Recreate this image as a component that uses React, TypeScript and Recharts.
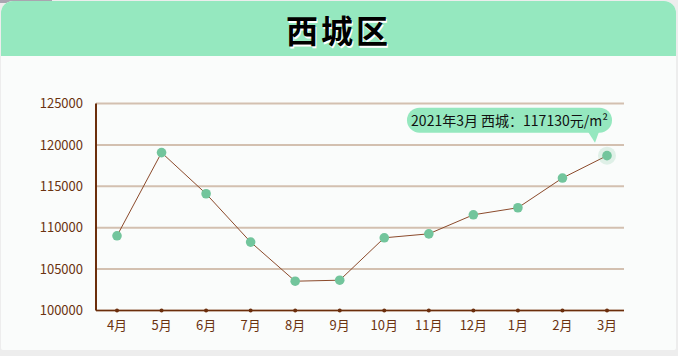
import React from "react";
import { LineChart, Line, XAxis, YAxis, CartesianGrid } from "recharts";

const months = ["4月", "5月", "6月", "7月", "8月", "9月", "10月", "11月", "12月", "1月", "2月", "3月"];
const prices = [109020, 119070, 114100, 108260, 103540, 103660, 108780, 109260, 111560, 112410, 116000, 118700];
const yTicks = [100000, 105000, 110000, 115000, 120000, 125000];
const title = "西城区";
const tooltipText = "2021年3月 西城：117130元/m²";

const data = months.map((m, i) => ({ month: m, price: prices[i] }));

const FONT = '"Noto Sans CJK SC", "Noto Sans", sans-serif';
const BROWN = "#6B2E0C";

const XTick = (props: any) => {
  const { x, y, payload } = props;
  const axisY = y - 10;
  return (
    <g>
      <circle cx={x} cy={axisY} r={2} fill={BROWN} />
      <text x={x} y={y} dy="0.71em" textAnchor="middle" fill="#6B3310" fontSize={13} fontFamily={FONT}>
        {payload.value}
      </text>
    </g>
  );
};

const Dot = (props: any) => {
  const { cx, cy, index } = props;
  if (cx == null || cy == null) return null;
  const last = index === prices.length - 1;
  if (!last) {
    return <circle key={`d${index}`} cx={cx} cy={cy} r={4.8} fill="#72C59C" />;
  }
  const bx1 = cx - 200;
  const bx2 = cx + 5;
  const by1 = cy - 48;
  const by2 = cy - 23;
  return (
    <g key={`d${index}`}>
      <circle cx={cx} cy={cy} r={9} fill="#72C59C" fillOpacity={0.2} />
      <circle cx={cx} cy={cy} r={4.8} fill="#72C59C" />
      <rect x={bx1} y={by1} width={bx2 - bx1} height={by2 - by1} rx={12.5} ry={12.5} fill="#95E8BF" />
      <path d={`M ${cx - 19} ${by2 - 1} L ${cx - 12} ${cy - 13} L ${cx - 8} ${by2 - 1} Z`} fill="#95E8BF" />
      <text x={(bx1 + bx2) / 2} y={by1 + 18} textAnchor="middle" fontSize={14} fill="#111" fontFamily={FONT}>
        {tooltipText}
      </text>
    </g>
  );
};

export default function App() {
  return (
    <div style={{ position: "fixed", left: 0, top: 0, width: 678, height: 356, background: "#EDEDED", overflow: "hidden" }}>
      <div style={{ position: "absolute", left: 0, top: 0, width: 52, height: 3, background: "#A9A5B0" }} />
      <div style={{ position: "absolute", left: 1, top: 1, width: 675, height: 349, background: "#FAFCFB", borderRadius: "12px 12px 2px 2px", overflow: "hidden" }}>
        <div style={{ position: "absolute", left: 0, top: 0, width: 675, height: 55, background: "#95E8BF" }} />
        <div style={{ position: "absolute", left: 0, top: 0, width: 675, height: 55, display: "flex", alignItems: "center", justifyContent: "center", fontFamily: FONT, fontWeight: 700, fontSize: 32, letterSpacing: 3, color: "#000", textShadow: "1px 2px 0 #fff", paddingLeft: 0 }}>
          {title}
        </div>
      </div>
      <div style={{ position: "absolute", left: 0, top: 0 }}>
        <LineChart width={678} height={356} data={data} margin={{ top: 103.5, right: 54, bottom: 15.5, left: 0 }}>
          <CartesianGrid horizontal vertical={false} stroke="#D3C0B0" strokeWidth={2} />
          <XAxis
            dataKey="month"
            padding={{ left: 21, right: 17 }}
            height={30}
            axisLine={{ stroke: BROWN, strokeWidth: 1.5 }}
            tickLine={false}
            tickSize={6}
            tickMargin={4}
            tick={<XTick />}
            interval={0}
          />
          <YAxis
            domain={[100000, 125000]}
            ticks={yTicks}
            width={96}
            axisLine={{ stroke: BROWN, strokeWidth: 2 }}
            tickLine={false}
            tickSize={6}
            tickMargin={7}
            tick={{ fill: "#6B3310", fontSize: 13, fontFamily: FONT }}
            interval={0}
          />
          <Line
            type="linear"
            dataKey="price"
            stroke="#8B4A2B"
            strokeWidth={1}
            dot={<Dot />}
            activeDot={false}
            isAnimationActive={false}
          />
        </LineChart>
      </div>
    </div>
  );
}
